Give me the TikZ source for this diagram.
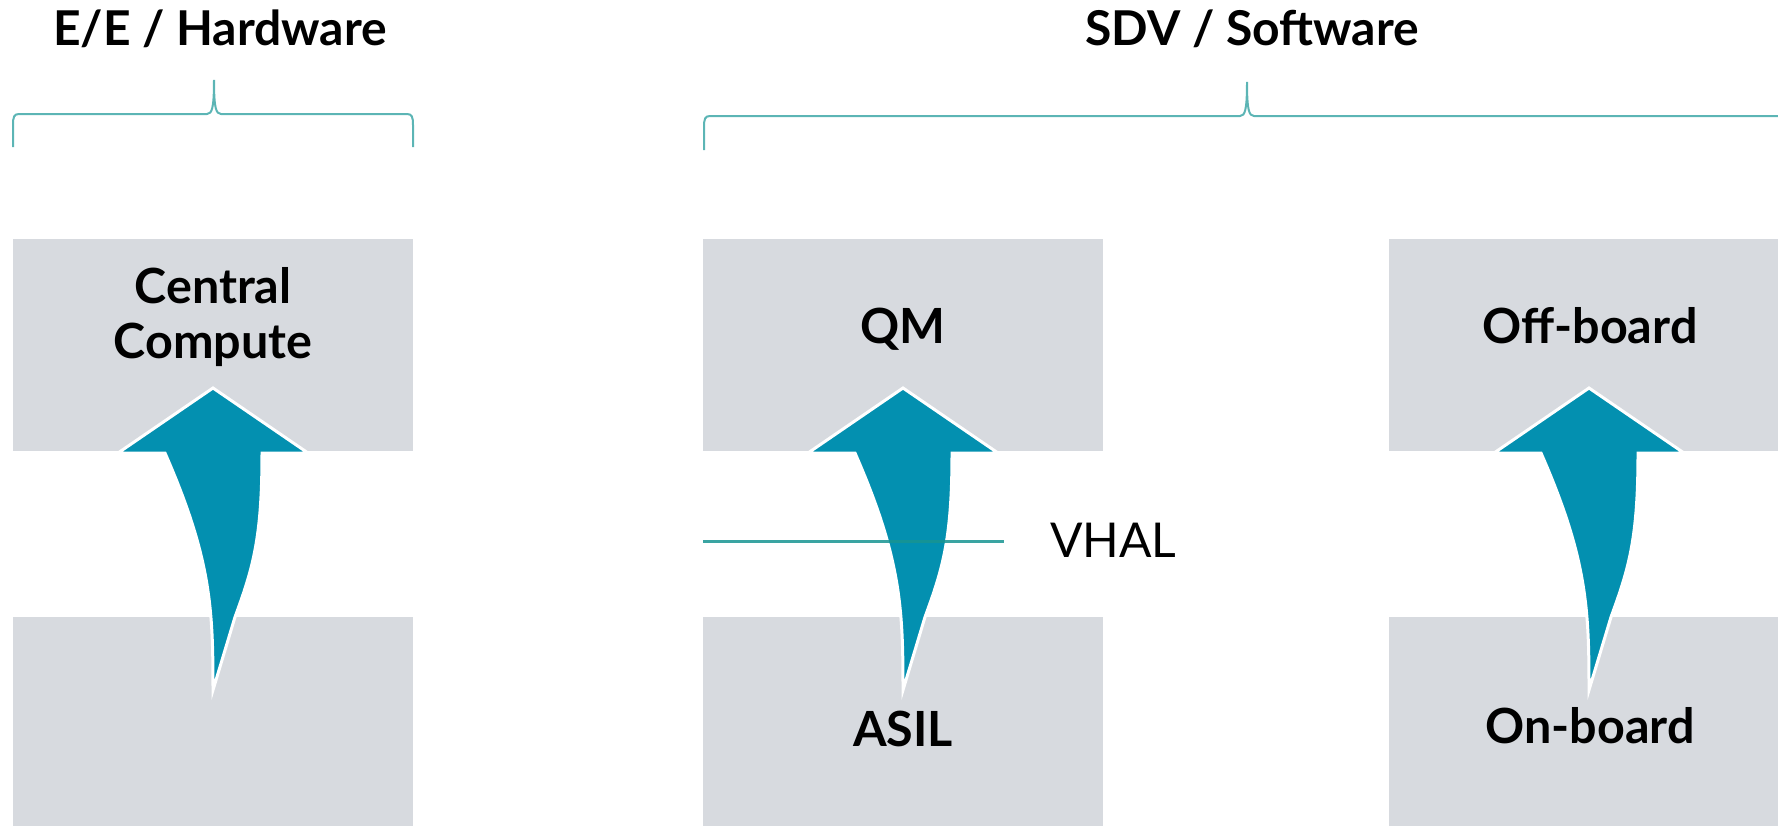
\documentclass[tikz,border=0pt]{standalone}
\usepackage{fontspec}
\setmainfont{Lato}
\usetikzlibrary{positioning,calc}

\definecolor{boxgray}{RGB}{215,218,223}
\definecolor{flowteal}{RGB}{3,144,176}
\definecolor{lineteal}{RGB}{24,148,146}
\definecolor{braceteal}{RGB}{92,181,181}

\begin{document}
\begin{tikzpicture}[
  x=1pt, y=-1pt,
  block/.style={fill=boxgray, minimum width=400pt, minimum height=212pt, inner sep=0pt, outer sep=0pt},
  blocklabel/.style={anchor=base, inner sep=0pt, font=\fontsize{48.5}{55}\selectfont\bfseries},
  heading/.style={anchor=base, inner sep=0pt, font=\fontsize{48}{56}\selectfont\bfseries},
  bracket/.style={draw=braceteal, line width=2pt},
  uparrow/.pic={
    \fill[flowteal, draw=white, line width=3pt, miter limit=25]
      (0,0) -- (95,65) -- (49,65)
      .. controls (49,150) and (40,180) .. (22,229) -- (0,302)
      .. controls (0,220) and (-2,170) .. (-48,65) -- (-95,65) -- cycle;
  }
]
  \clip (0,0) rectangle (1778,825);

  % Hardware column
  \node[block] (cc)  at (213,345) {};
  \node[block] (hw)  at (213,723) {};
  % Software columns
  \node[block] (qm)  at (903,345) {};
  \node[block] (asil) at (903,723) {};
  \node[block] (off) at (1589,345) {};
  \node[block] (on)  at (1589,723) {};

  % Arrows from bottom to top
  \pic at ($(cc.south)+(0,-63)$) {uparrow};
  \pic at ($(qm.south)+(0,-63)$) {uparrow};
  \pic at ($(off.south)+(0,-63)$) {uparrow};

  % VHAL layer
  \coordinate (vl) at (qm.west |- 0,541);
  \coordinate (vr) at (1004,541);
  \draw[lineteal, line width=3pt, opacity=0.85] (vl) -- (vr);
  \node[anchor=base west, inner sep=0pt, font=\fontsize{48}{56}\selectfont] (vhal) at (1050,557) {VHAL};

  % Labels
  \node[blocklabel, align=center] (cclabel) at (213,358) {Central\\Compute};
  \node[blocklabel] (qmlabel)   at (903,343)  {QM};
  \node[blocklabel] (asillabel) at (903,746)  {ASIL};
  \node[blocklabel] (offlabel)  at (1590,343) {Off-board};
  \node[blocklabel] (onlabel)   at (1590,743) {On-board};

  % Headings and braces
  \node[heading] (hwtitle) at (220,45)  {E/E / Hardware};
  \node[heading] (swtitle) at (1252,45) {SDV / Software};

  \draw[bracket] (13,147) -- (13,125) .. controls (13,117) and (14,114) .. (19,114)
    -- (207,114) .. controls (212,114) and (214,108) .. (214,80)
    .. controls (214,108) and (216,114) .. (221,114)
    -- (407,114) .. controls (412,114) and (413,117) .. (413,125) -- (413,147);
  \draw[bracket] (704,150) -- (704,127) .. controls (704,119) and (705,116) .. (710,116)
    -- (1240,116) .. controls (1245,116) and (1247,110) .. (1247,82)
    .. controls (1247,110) and (1249,116) .. (1254,116) -- (1800,116);
\end{tikzpicture}
\end{document}
